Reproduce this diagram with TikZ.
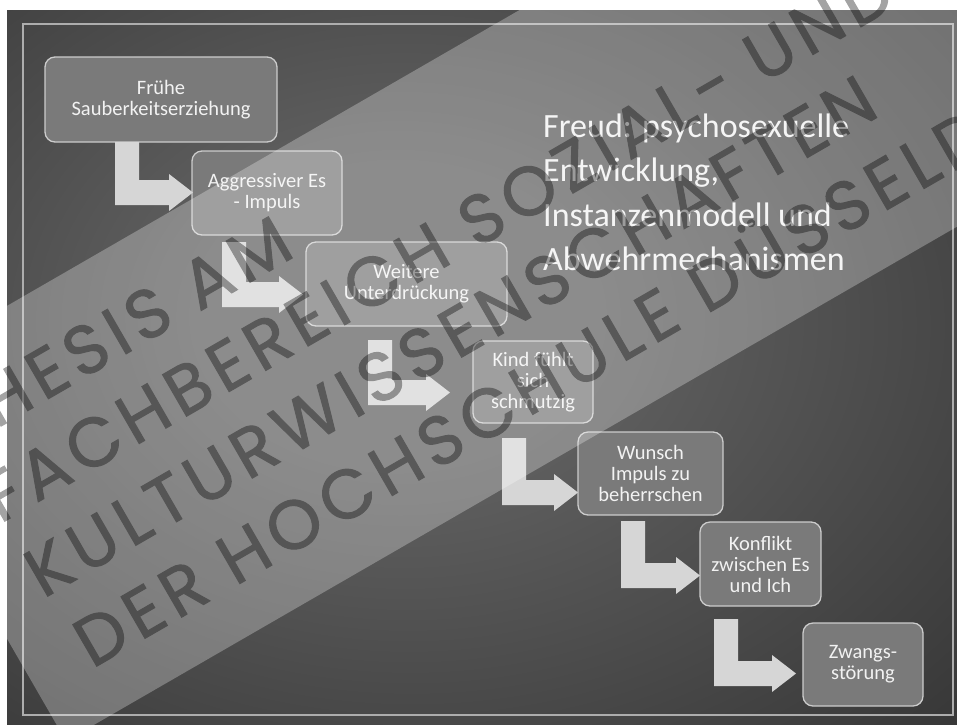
\documentclass[tikz,border=0pt]{standalone}
\usepackage{fontspec}
\setmainfont{Carlito}
\newfontfamily\wmfont[LetterSpace=10, FakeBold=1.4]{Poppins}
\usepackage{tikz}
\usetikzlibrary{positioning}
\definecolor{bgmid}{rgb}{0.38, 0.38, 0.38}
\definecolor{bgdark}{rgb}{0.13, 0.13, 0.13}
\definecolor{boxclr}{rgb}{0.48, 0.48, 0.48}
\definecolor{lineclr}{rgb}{0.80, 0.80, 0.80}
\definecolor{frameclr}{rgb}{0.68, 0.68, 0.68}
\definecolor{arrclr}{rgb}{0.84, 0.84, 0.84}
\definecolor{txtclr}{rgb}{0.95, 0.95, 0.95}
\pgfdeclareradialshading{slidebg}{\pgfpoint{-5bp}{4bp}}{color(0bp)=(bgmid); color(10bp)=(bgmid); color(55bp)=(bgdark); color(100bp)=(bgdark)}
\tikzset{ %
  ,>=latex
  ,stepbox/.style={draw=lineclr, line width=1.3pt, rounded corners=10pt, fill=boxclr, text=txtclr, align=center, inner sep=2pt, font=\fontsize{20.5}{21}\selectfont}
  ,heading/.style={anchor=base west, align=left, inner sep=0, text=txtclr, font=\fontsize{34}{44.5}\selectfont}
  ,wmline/.style={anchor=base west, rotate=30, inner sep=0, text=black, font=\wmfont\fontsize{69}{69}\selectfont}
}

\begin{document}
\begin{tikzpicture}[x=1pt, y=-1pt]
  \useasboundingbox (0,0) rectangle (957,724);
  \fill[white] (0,0) rectangle (957,724);
  % slide
  \path[shading=slidebg] (7,10) rectangle (957,724);
  \draw[frameclr, line width=1.2pt] (23,24) rectangle (953,715);
  \node[heading] (title) at (543,270.5) {Freud: psychosexuelle\\Entwicklung,\\Instanzenmodell und\\Abwehrmechanismen};
  % steps
  \node[stepbox, minimum width=232, minimum height=85] (fruehe) at (161,99.5) {Frühe\\Sauberkeitserziehung};
  \node[stepbox, minimum width=150, minimum height=84] (impuls) at (267,193) {Aggressiver Es\\- Impuls};
  \node[stepbox, minimum width=201, minimum height=84] (unterdr) at (406.5,284) {Weitere\\Unterdrückung};
  \node[stepbox, minimum width=120, minimum height=82] (kind) at (533,382) {Kind fühlt\\sich\\schmutzig};
  \node[stepbox, minimum width=145, minimum height=83] (wunsch) at (650.5,473.5) {Wunsch\\Impuls zu\\beherrschen};
  \node[stepbox, minimum width=121, minimum height=84] (konflikt) at (760.5,564) {Konflikt\\zwischen Es\\und Ich};
  \node[stepbox, minimum width=120, minimum height=83] (zwang) at (863,664.5) {Zwangs-\\störung};
  % bent arrows: bar left, top, bottom, tip
  \foreach \xl/\yt/\yb/\xt in {115/142/205/193, 222/242/307/303, 368/340/405/450, 502/438/505/578, 621/521/588/700, 714/619/686/796}
    \fill[arrclr] (\xl,\yt) -- (\xl+24,\yt) -- (\xl+24,\yb-25) -- (\xt-24,\yb-25) -- (\xt-24,\yb-31)
      -- (\xt,\yb-12.5) -- (\xt-24,\yb+6) -- (\xt-24,\yb) -- (\xl,\yb) -- cycle;
  % watermark
  \fill[white, opacity=0.28] (-137,389) -- (66,741) -- (1192,91) -- (989,-261) -- cycle;
  \begin{scope}[transparency group, opacity=0.36]
    \node[wmline] (wm1) at (-42,451) {THESIS AM};
    \node[wmline] (wm2) at (0,524) {FACHBEREICH SOZIAL- UND};
    \node[wmline] (wm3) at (43,599) {KULTURWISSENSCHAFTEN};
    \node[wmline] (wm4) at (92,669) {DER HOCHSCHULE DÜSSELDORF};
  \end{scope}
\end{tikzpicture}
\end{document}
